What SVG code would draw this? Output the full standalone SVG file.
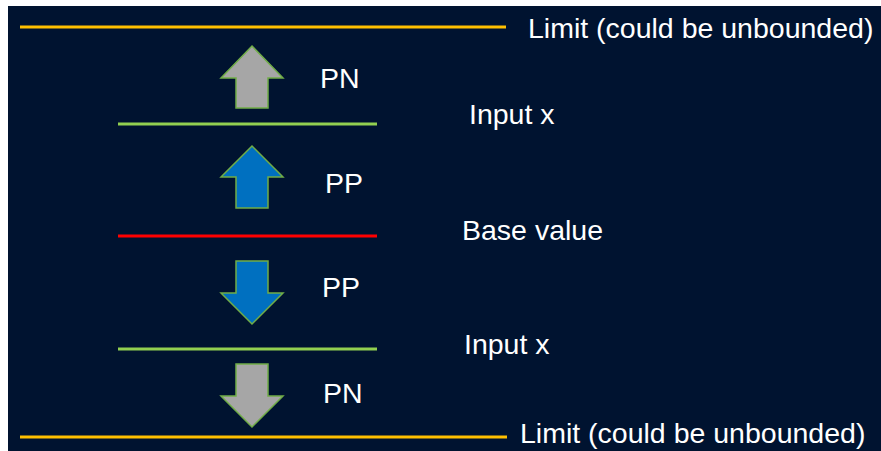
<svg xmlns="http://www.w3.org/2000/svg" width="881" height="451" viewBox="0 0 881 451">
<style>
.t{font-family:"Liberation Sans",Arial,sans-serif;font-size:28.5px;fill:#ffffff}
.ln{stroke-width:3.2;stroke-linecap:butt}
.lim{stroke:#FFC000}
.inp{stroke:#92D050}
.base{stroke:#FF0000}
.arr{stroke:#70AD47;stroke-width:1.5;stroke-linejoin:miter}
.gray{fill:#A6A6A6}
.blue{fill:#0070C0}
</style>
<rect x="0" y="0" width="881" height="451" fill="#ffffff"/>
<rect x="8" y="6" width="873" height="445" fill="#001330"/>
<g id="connectors">
<line id="limit-top-line" class="ln lim" x1="20" y1="27" x2="506" y2="27"/>
<line id="input-top-line" class="ln inp" x1="118" y1="124" x2="377" y2="124"/>
<line id="base-line" class="ln base" x1="118" y1="236" x2="377" y2="236"/>
<line id="input-bottom-line" class="ln inp" x1="118" y1="349" x2="377" y2="349"/>
<line id="limit-bottom-line" class="ln lim" x1="20" y1="437" x2="507" y2="437"/>
</g>
<g id="arrow-pn-up"><polygon class="arr gray" points="252,46 283,78 268,78 268,108 236,108 236,78 221,78"/></g>
<g id="arrow-pp-up"><polygon class="arr blue" points="252,146 283,177 268,177 268,208 236,208 236,177 221,177"/></g>
<g id="arrow-pp-down"><polygon class="arr blue" points="236,261 268,261 268,293 283,293 252,324 221,293 236,293"/></g>
<g id="arrow-pn-down"><polygon class="arr gray" points="236,364 268,364 268,396 283,396 252,427 221,396 236,396"/></g>
<g id="label-limit-top"><text class="t" x="528" y="38">Limit (could be unbounded)</text></g>
<g id="label-pn-top"><text class="t" x="320" y="88">PN</text></g>
<g id="label-input-top"><text class="t" x="469" y="124">Input x</text></g>
<g id="label-pp-top"><text class="t" x="325" y="193">PP</text></g>
<g id="label-base"><text class="t" x="462" y="240">Base value</text></g>
<g id="label-pp-bottom"><text class="t" x="322" y="297">PP</text></g>
<g id="label-input-bottom"><text class="t" x="464" y="354">Input x</text></g>
<g id="label-pn-bottom"><text class="t" x="323" y="403">PN</text></g>
<g id="label-limit-bottom"><text class="t" x="520" y="443">Limit (could be unbounded)</text></g>
</svg>
